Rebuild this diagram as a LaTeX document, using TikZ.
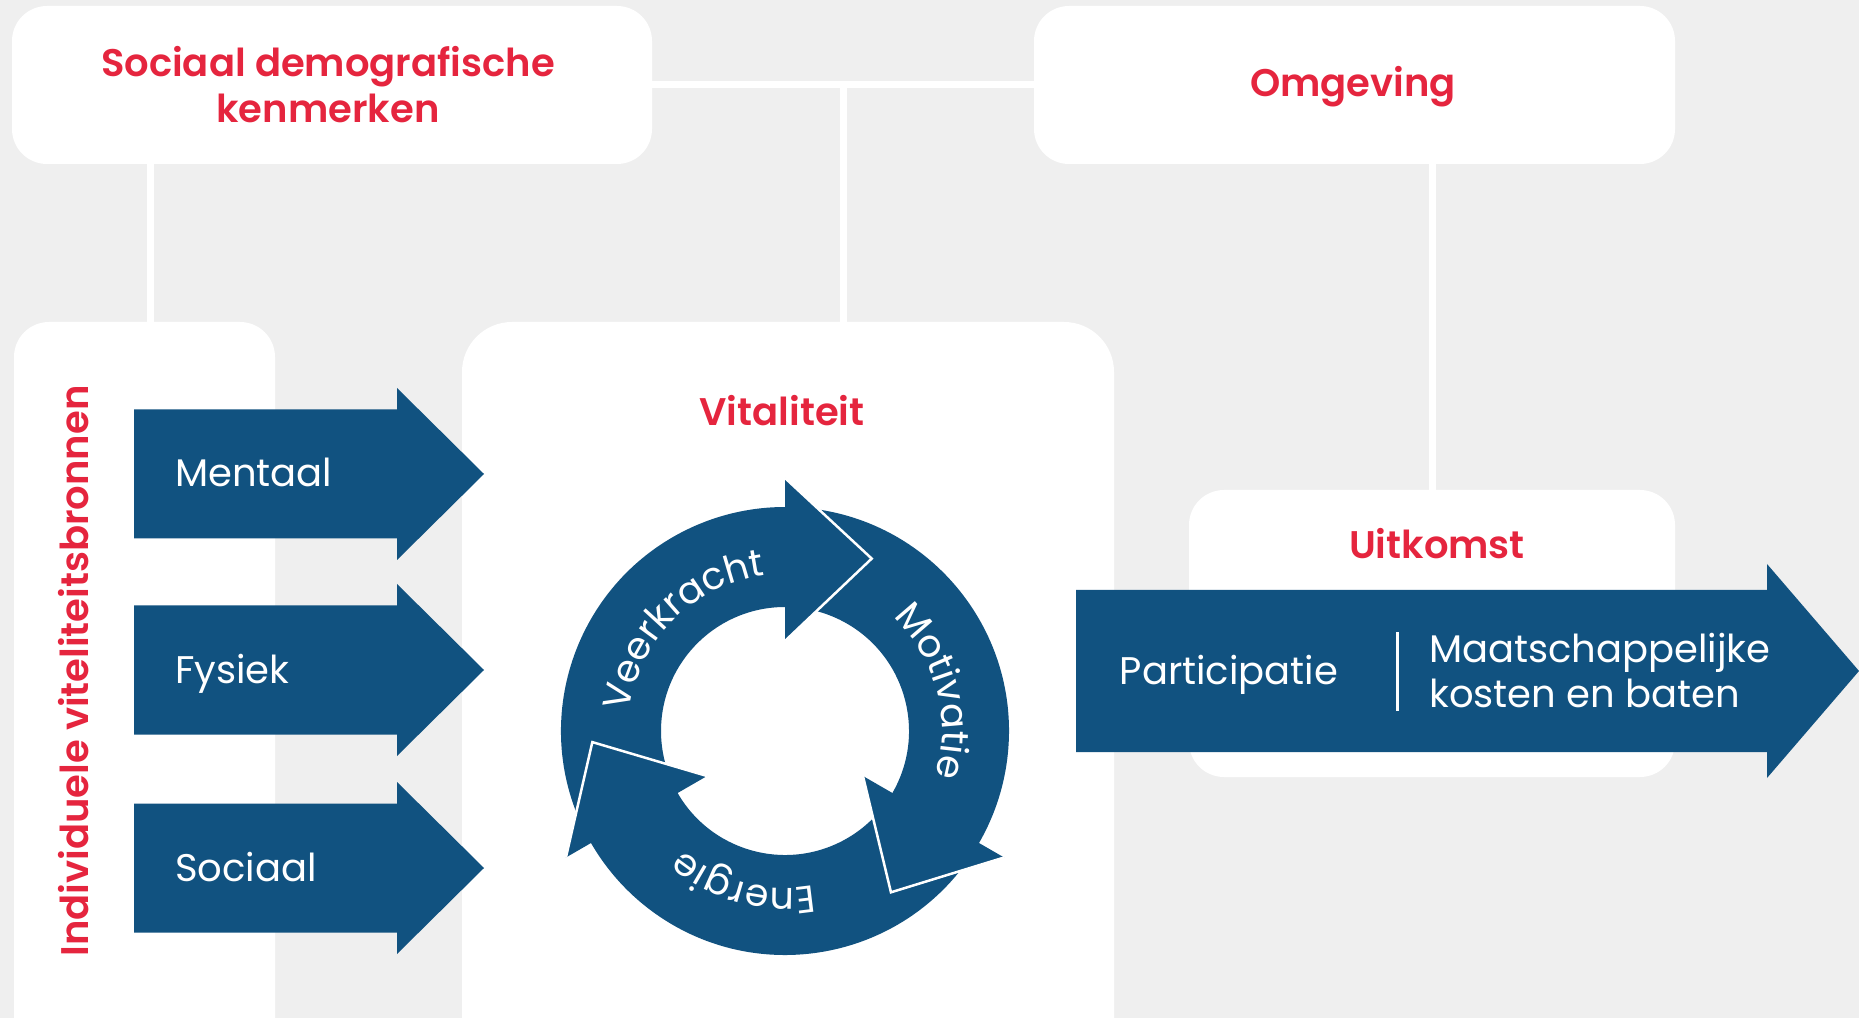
\documentclass[tikz,border=0pt]{standalone}
\usepackage{fontspec}
\setmainfont{Poppins}[BoldFont={Poppins SemiBold}]
\usetikzlibrary{calc,decorations.text}
\definecolor{vbg}{RGB}{239,239,239}
\definecolor{vblue}{RGB}{17,82,128}
\definecolor{vred}{RGB}{229,37,62}

\begin{document}
\begin{tikzpicture}[x=1pt,y=1pt,
	box/.style={fill=white,rounded corners=35pt,inner sep=0pt},
	kop/.style={text=vred,font=\fontsize{38.5}{46}\selectfont\bfseries,align=center},
	pijltekst/.style={text=white,font=\fontsize{38.5}{45}\selectfont,align=left,inner sep=0pt},
	link/.style={draw=white,line width=7pt},
	blok/.style={fill=vblue}]
\useasboundingbox (0,0) rectangle (1859,1018);
\clip (0,0) rectangle (1859,1018);
\fill[vbg] (0,0) rectangle (1859,1018);

% kaders
\node[box,minimum width=640pt,minimum height=158pt] (sd) at (332,933) {};
\node[box,minimum width=641pt,minimum height=158pt] (omg) at (1354.5,933) {};
\node[box,minimum width=261pt,minimum height=760pt] (bron) at (144.5,316) {};
\node[box,minimum width=652pt,minimum height=760pt,rounded corners=50pt] (vit) at (788,316) {};
\node[box,minimum width=486pt,minimum height=287pt] (uit) at (1432,384.5) {};

\coordinate (mid) at ($(sd.east)!0.5!(omg.west)$);
\draw[link] (sd.east) -- (omg.west);
\draw[link] (mid) -- (mid |- vit.north);
\draw[link] ([xshift=6pt]bron.north) -- ([xshift=6pt]bron.north |- sd.south);
\draw[link] (uit.north) -- (uit.north |- omg.south);

\node[kop] (sdtitel) at (328,933) {Sociaal demografische\\kenmerken};
\node[kop] (omgtitel) at (1353,931) {Omgeving};
\node[kop] (vittitel) at (782,607) {Vitaliteit};
\node[kop] (uittitel) at (1437,474) {Uitkomst};
\node[kop,rotate=90] (brontitel) at (74,347) {Individuele viteliteitsbronnen};

% bronnen
\foreach \naam/\yy in {Mentaal/544,Fysiek/348,Sociaal/150} {
	\fill[blok] (134,\yy-64.5) -- (397,\yy-64.5) -- (397,\yy-86) -- (484,\yy)
		-- (397,\yy+86) -- (397,\yy+64.5) -- (134,\yy+64.5) -- cycle;
	\node[pijltekst,anchor=base west] (\naam) at (175,\yy-13) {\naam};
}

% uitkomst
\fill[blok] (1076,266) -- (1767,266) -- (1767,240) -- (1859,347)
	-- (1767,454) -- (1767,428) -- (1076,428) -- cycle;
\node[pijltekst,anchor=base] (partic) at (1229,334) {Participatie};
\node[pijltekst,anchor=west] (maatsch) at (1429,347) {Maatschappelijke\\kosten en baten};
\draw[white,line width=3pt] (1397,307) -- (1397,386);

% cirkel
\begin{scope}[shift={(785,287)}]
\foreach \rot in {0,-120,-240} {
	\fill[blok] (205+\rot:224) arc (205+\rot:89+\rot:224)
		-- (89+\rot:124) arc (89+\rot:205+\rot:124) -- cycle;
}
\foreach \rot in {0,-120,-240} {
	\fill[blok] (90+\rot:90) -- (90+\rot:253) -- (63.3+\rot:193) -- cycle;
	\draw[white,line width=2.5pt,line join=miter] (90+\rot:253) -- (63.3+\rot:193) -- (90+\rot:90);
}
\path[decorate,decoration={text along path,text color=white,text align=center,
	text={|\fontsize{38}{38}\selectfont|Veerkracht}}] (200:157) arc (200:70:157);
\path[decorate,decoration={text along path,text color=white,text align=center,
	text={|\fontsize{38}{38}\selectfont|Motivatie}}] (80:157) arc (80:-50:157);
\path[decorate,decoration={text along path,text color=white,text align=center,
	text={|\fontsize{38}{38}\selectfont|Energie}}] (-40:157) arc (-40:-170:157);
\end{scope}
\end{tikzpicture}
\end{document}
